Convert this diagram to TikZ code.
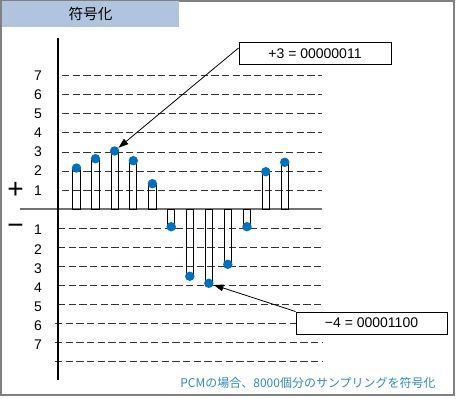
\documentclass[tikz,border=0pt]{standalone}
\usepackage{fontspec}
\setmainfont{Liberation Sans}
\newfontfamily\jp{Noto Sans CJK JP}
\usetikzlibrary{arrows.meta,calc}
\definecolor{dotblue}{HTML}{0070C0}
\definecolor{capblue}{HTML}{2E86D4}
\definecolor{titlefill}{HTML}{B0C4DE}
\definecolor{framegray}{HTML}{808080}
\tikzset{
  frame/.style={draw=framegray,line width=1.5pt},
  titlebox/.style={fill=titlefill,minimum width=132.75pt,minimum height=19.5pt,inner sep=0pt,font=\jp\fontsize{11}{13}\selectfont},
  gridline/.style={draw=black!80,line width=0.75pt,dash pattern=on 5.4pt off 2.6pt},
  zeroaxis/.style={draw=black!55,line width=1.1pt},
  vaxis/.style={draw=black,line width=0.8pt},
  lvl/.style={font=\fontsize{10.5}{12}\selectfont,inner sep=0pt},
  sign/.style={font=\fontsize{21}{24}\selectfont,inner sep=0pt},
  bar/.style={draw=black,line width=0.75pt},
  sdot/.style={circle,fill=dotblue,minimum size=7.1pt,inner sep=0pt},
  callout/.style={draw=black,line width=0.75pt,fill=white,inner sep=0pt,font=\fontsize{10.5}{12}\selectfont},
  pointer/.style={draw=black,line width=0.6pt,-{Triangle[length=7.5pt,width=5pt]},shorten >=0pt},
  caption/.style={text=capblue,font=\jp\fontsize{9}{11}\selectfont,inner sep=0pt},
}
\begin{document}
\begin{tikzpicture}[x=0.75pt,y=-0.75pt]
\useasboundingbox (0,0) rectangle (456,399);
\draw[frame] (1,1) rectangle (454,395);
\node[titlebox] (title) at (90.5,14) {符号化};
% grid lines
\foreach \y in {76,95,114,133,152,171,190}
  \draw[gridline] (62,\y) -- (322,\y);
\foreach \y in {228,247,266,285,304}
  \draw[gridline] (58,\y) -- (322,\y);
\foreach \y in {323,342,361}
  \draw[gridline] (55,\y) -- (322,\y);
% axes
\draw[zeroaxis] (20,209) -- (322,209);
\draw[vaxis] (58,38) -- (58,380);
% level labels
\foreach \n/\y in {7/76,6/95,5/114,4/133,3/152,2/171,1/191}
  \node[lvl] (lp\n) at (38,\y) {\n};
\foreach \n/\y in {1/230,2/249.5,3/268.5,4/287.5,5/306.5,6/325.5,7/344.5}
  \node[lvl] (ln\n) at (38,\y) {\n};
\node[sign] (plus) at (15.5,190) {+};
\node[sign] (minus) at (15.5,229) {−};
% samples
\foreach \i/\x/\y in {1/76.5/168,2/95.5/158.7,3/114.6/151,4/133.3/160.7,5/152.4/183.7,6/171.2/226.7,7/189.8/276.3,8/208.8/283.3,9/227.8/264.3,10/247/226.7,11/265.8/171.7,12/284.7/162.3}{
  \draw[bar] (\x-3.6,209) rectangle (\x+3.6,\y);
  \node[sdot] (s\i) at (\x,\y) {};
}
% callouts
\node[callout,minimum width=114pt,minimum height=16.5pt] (c1) at (315,54) {+3 = 00000011};
\node[callout,minimum width=113.25pt,minimum height=16.5pt] (c2) at (371.5,323) {−4 = 00001100};
\coordinate (a1) at ($(c1.north west)!0.24!(c1.south west)$);
\draw[pointer] (a1) -- (s3);
\draw[pointer] (c2.north west) -- (s8);
\node[caption] (cap) at (308,382.5) {PCMの場合、8000個分のサンプリングを符号化};
\end{tikzpicture}
\end{document}
